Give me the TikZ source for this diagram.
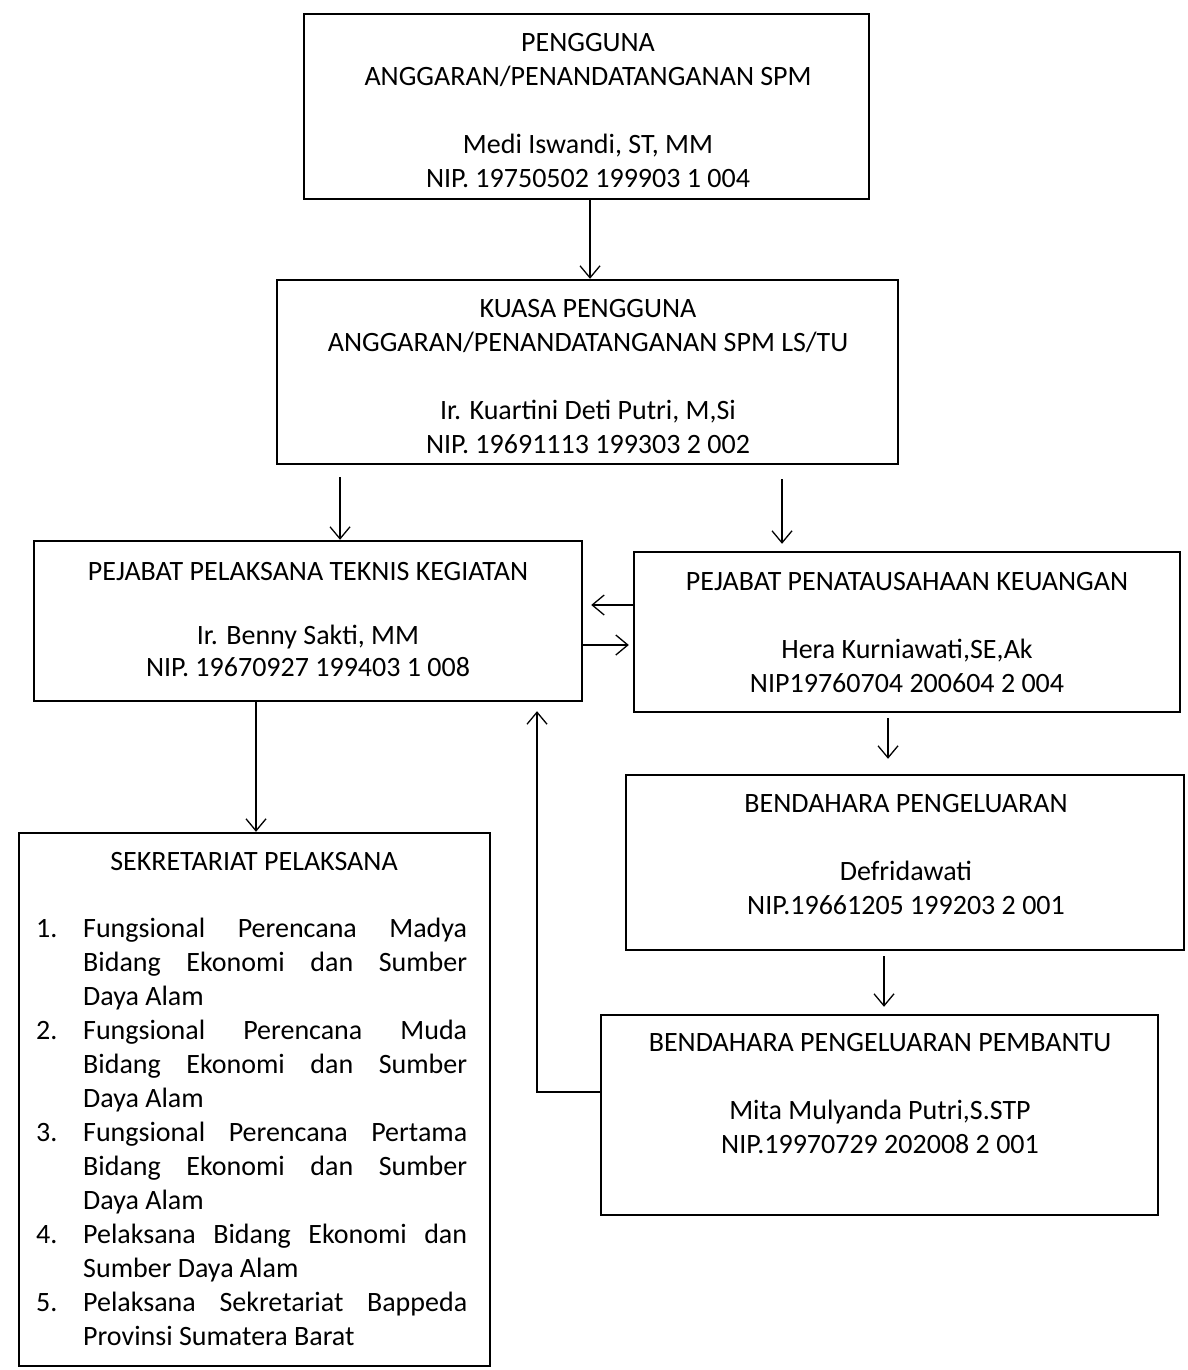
\documentclass[tikz,border=0pt]{standalone}
\usepackage{fontspec}
\setmainfont{Carlito}
\usetikzlibrary{arrows.meta}
\begin{document}
\begin{tikzpicture}[x=1pt,y=-1pt,
  box/.style={draw, line width=2.4pt, inner sep=0pt},
  txt/.style={align=center, inner sep=0pt, font=\fontsize{28}{34}\selectfont},
  arr/.style={line width=1.3pt, -{Straight Barb[length=12pt,width=20pt,line width=1.3pt]}}]
\useasboundingbox (0,0) rectangle (1187,1370);
% boxes
\node[box, minimum width=565pt, minimum height=185pt] (b1) at (586.5,106.5) {};
\node[box, minimum width=621pt, minimum height=184pt] (b2) at (587.5,372) {};
\node[box, minimum width=548pt, minimum height=160pt] (pptk) at (308,621) {};
\node[box, minimum width=546pt, minimum height=160pt] (ppk) at (907,632) {};
\node[box, minimum width=558pt, minimum height=175pt] (bend) at (905,862.5) {};
\node[box, minimum width=557pt, minimum height=200pt] (pemb) at (879.5,1115) {};
\node[box, minimum width=471pt, minimum height=533pt] (sek) at (254.5,1099.5) {};
% texts
\node[txt] (t1) at (588,111) {PENGGUNA\\ANGGARAN/PENANDATANGANAN SPM\\[34pt]Medi Iswandi, ST, MM\\NIP. 19750502 199903 1 004};
\node[txt] (t2) at (588,376.5) {KUASA PENGGUNA\\ANGGARAN/PENANDATANGANAN SPM LS/TU\\[34pt]Ir. Kuartini Deti Putri, M,Si\\NIP. 19691113 199303 2 002};
\node[txt, font=\fontsize{28}{32}\selectfont] (t3) at (308,619.5) {PEJABAT PELAKSANA TEKNIS KEGIATAN\\[32pt]Ir. Benny Sakti, MM\\NIP. 19670927 199403 1 008};
\node[txt] (t4) at (907,632.5) {PEJABAT PENATAUSAHAAN KEUANGAN\\[34pt]Hera Kurniawati,SE,Ak\\NIP19760704 200604 2 004};
\node[txt] (t5) at (906,855) {BENDAHARA PENGELUARAN\\[34pt]Defridawati\\NIP.19661205 199203 2 001};
\node[txt] (t6) at (880,1094) {BENDAHARA PENGELUARAN PEMBANTU\\[34pt]Mita Mulyanda Putri,S.STP\\NIP.19970729 202008 2 001};
\node[txt] (t7) at (254,862) {SEKRETARIAT PELAKSANA};
\node[anchor=north west, inner sep=0pt, text width=431pt, align=justify,
  font=\fontsize{28}{34}\selectfont] (list) at (36,918) {%
\hyphenpenalty=10000\exhyphenpenalty=10000\parskip=0pt
\noindent\hangindent=47pt\hangafter=1\makebox[47pt][l]{1.}Fungsional Perencana Madya\linebreak Bidang Ekonomi dan Sumber\linebreak Daya Alam\par
\noindent\hangindent=47pt\hangafter=1\makebox[47pt][l]{2.}Fungsional Perencana Muda\linebreak Bidang Ekonomi dan Sumber\linebreak Daya Alam\par
\noindent\hangindent=47pt\hangafter=1\makebox[47pt][l]{3.}Fungsional Perencana Pertama\linebreak Bidang Ekonomi dan Sumber\linebreak Daya Alam\par
\noindent\hangindent=47pt\hangafter=1\makebox[47pt][l]{4.}Pelaksana Bidang Ekonomi dan\linebreak Sumber Daya Alam\par
\noindent\hangindent=47pt\hangafter=1\makebox[47pt][l]{5.}Pelaksana Sekretariat Bappeda\linebreak Provinsi Sumatera Barat\par};
% connectors
\draw[arr] (b1.south -| 590,0) -- (b2.north -| 590,0);
\draw[arr, shorten <=12pt] (b2.south -| 340,0) -- (pptk.north -| 340,0);
\draw[arr, shorten <=14pt, shorten >=7pt] (b2.south -| 782,0) -- (ppk.north -| 782,0);
\draw[arr, shorten >=8pt] (ppk.west |- 0,605) -- (pptk.east |- 0,605);
\draw[arr, shorten >=4pt] (pptk.east |- 0,645) -- (ppk.west |- 0,645);
\draw[arr] (pptk.south -| 256,0) -- (sek.north -| 256,0);
\draw[arr, shorten <=5pt, shorten >=15pt] (ppk.south -| 888,0) -- (bend.north -| 888,0);
\draw[arr, shorten <=5pt, shorten >=7pt] (bend.south -| 884,0) -- (pemb.north -| 884,0);
\draw[arr, shorten >=9pt] (pemb.west |- 0,1092) -| (pptk.south -| 537,0);
\end{tikzpicture}
\end{document}
